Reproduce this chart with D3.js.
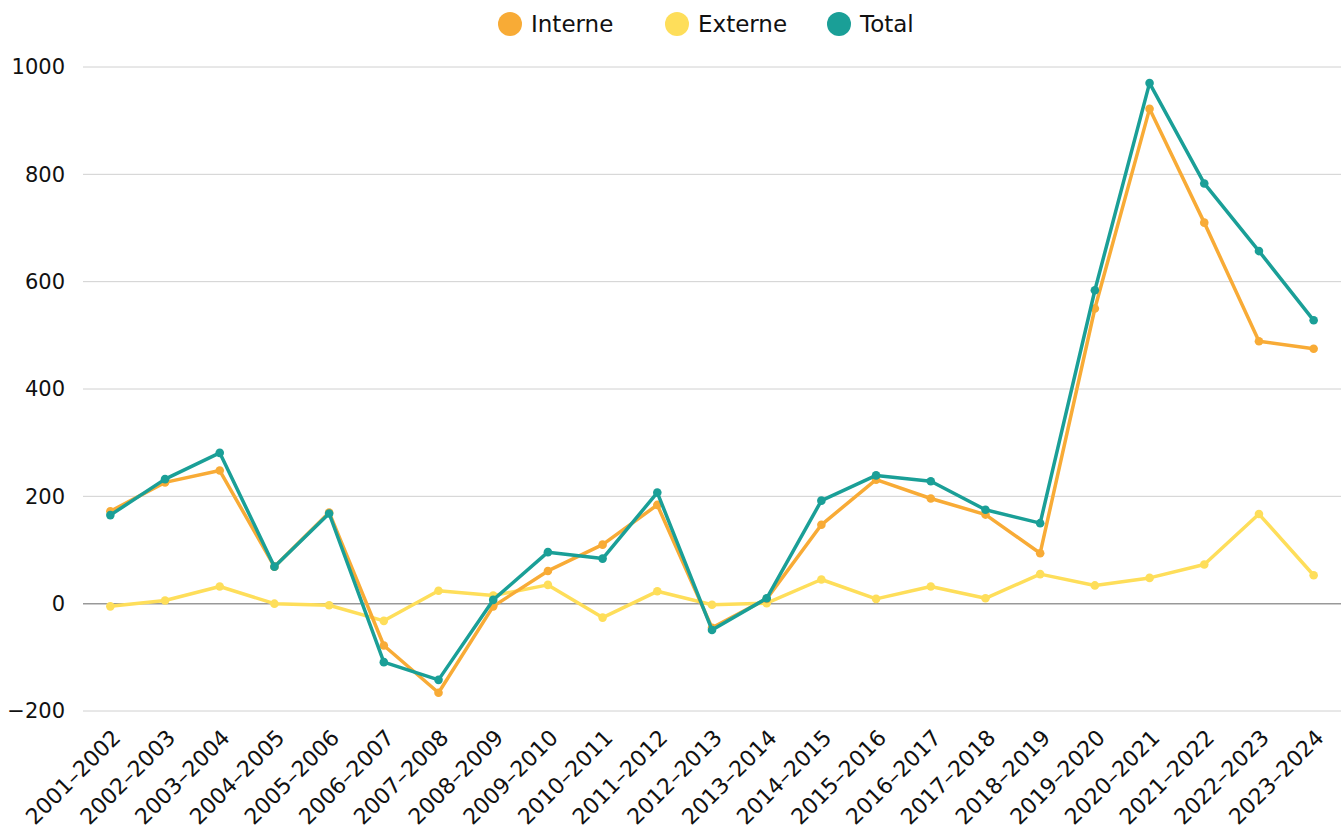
<!DOCTYPE html>
<html>
<head>
<meta charset="utf-8">
<script src="https://cdn.jsdelivr.net/npm/d3@7"></script>
<style>
  body { margin: 0; background: #fff; }
  svg { display: block; font-family: "DejaVu Sans", sans-serif; }
</style>
</head>
<body>
<div id="chart"></div>
<script>
// Season labels on the x axis
const seasons = [
  "2001–2002", "2002–2003", "2003–2004", "2004–2005", "2005–2006", "2006–2007",
  "2007–2008", "2008–2009", "2009–2010", "2010–2011", "2011–2012", "2012–2013",
  "2013–2014", "2014–2015", "2015–2016", "2016–2017", "2017–2018", "2018–2019",
  "2019–2020", "2020–2021", "2021–2022", "2022–2023", "2023–2024"
];

const interne = [172, 226, 248, 69, 170, -78, -166, -5, 61, 110, 184, -45,
  9, 147, 231, 196, 166, 94, 550, 922, 710, 489, 475];
const externe = [-5, 6, 32, 0, -3, -32, 24, 15, 35, -26, 23, -2,
  1, 45, 9, 32, 10, 55, 34, 48, 73, 167, 53];
const total = [165, 232, 281, 69, 168, -109, -142, 7, 96, 84, 207, -49,
  10, 192, 239, 228, 175, 150, 584, 970, 783, 657, 528];

const yTicks = [-200, 0, 200, 400, 600, 800, 1000];

const series = [
  { name: "Interne", color: "#F8AB36", values: interne },
  { name: "Externe", color: "#FEDE5A", values: externe },
  { name: "Total", color: "#1A9F97", values: total }
];

const width = 1341, height = 829;
const margin = { top: 67, right: 0, bottom: 118, left: 83 };

const svg = d3.select("#chart").append("svg")
  .attr("width", width)
  .attr("height", height);

const x = d3.scalePoint()
  .domain(seasons)
  .range([margin.left, width - margin.right])
  .padding(0.5);

const y = d3.scaleLinear()
  .domain([-200, 1000])
  .range([height - margin.bottom, margin.top]);

// grid lines
svg.append("g")
  .selectAll("line")
  .data(yTicks)
  .join("line")
  .attr("x1", margin.left)
  .attr("x2", width - margin.right)
  .attr("y1", d => y(d))
  .attr("y2", d => y(d))
  .attr("stroke", d => d === 0 ? "#999" : "#d0d0d0")
  .attr("stroke-width", d => d === 0 ? 1.5 : 1);

// y axis labels
const yAxis = g => g
  .attr("transform", `translate(${margin.left},0)`)
  .call(d3.axisLeft(y).tickValues(yTicks).tickSize(0).tickPadding(18).tickFormat(d3.format("d")))
  .call(g => g.select(".domain").remove())
  .call(g => g.selectAll("text")
    .attr("fill", "#111")
    .style("font-size", "21px")
    .style("font-family", "'DejaVu Sans', sans-serif"));
svg.append("g").call(yAxis);

// x axis labels, rotated
const xAxis = g => g
  .attr("transform", `translate(0,${y(-200)})`)
  .call(d3.axisBottom(x).tickSize(0).tickPadding(0))
  .call(g => g.select(".domain").remove())
  .call(g => g.selectAll("text")
    .attr("fill", "#111")
    .attr("text-anchor", "end")
    .attr("dy", null)
    .attr("y", 0)
    .attr("transform", "translate(11,28) rotate(-45)")
    .style("font-size", "22px")
    .style("font-family", "'DejaVu Sans', sans-serif"));
svg.append("g").call(xAxis);

const line = d3.line()
  .x((d, i) => x(seasons[i]))
  .y(d => y(d));

const order = [series[1], series[0], series[2]];
const sg = svg.append("g")
  .selectAll("g")
  .data(order)
  .join("g");

sg.append("path")
  .attr("d", d => line(d.values))
  .attr("fill", "none")
  .attr("stroke", d => d.color)
  .attr("stroke-width", 3.5)
  .attr("stroke-linejoin", "round");

sg.selectAll("circle")
  .data(d => d.values.map((v, i) => ({ v, i, color: d.color })))
  .join("circle")
  .attr("cx", d => x(seasons[d.i]))
  .attr("cy", d => y(d.v))
  .attr("r", 4.3)
  .attr("fill", d => d.color);

// legend
const legendX = [510, 677, 839];
const legend = svg.append("g")
  .selectAll("g")
  .data(series)
  .join("g")
  .attr("transform", (d, i) => `translate(${legendX[i]},24)`);

legend.append("circle")
  .attr("r", 12)
  .attr("fill", d => d.color);

legend.append("text")
  .attr("x", 21)
  .attr("dy", "0.35em")
  .attr("fill", "#111")
  .style("font-size", "23px")
  .text(d => d.name);
</script>
</body>
</html>
